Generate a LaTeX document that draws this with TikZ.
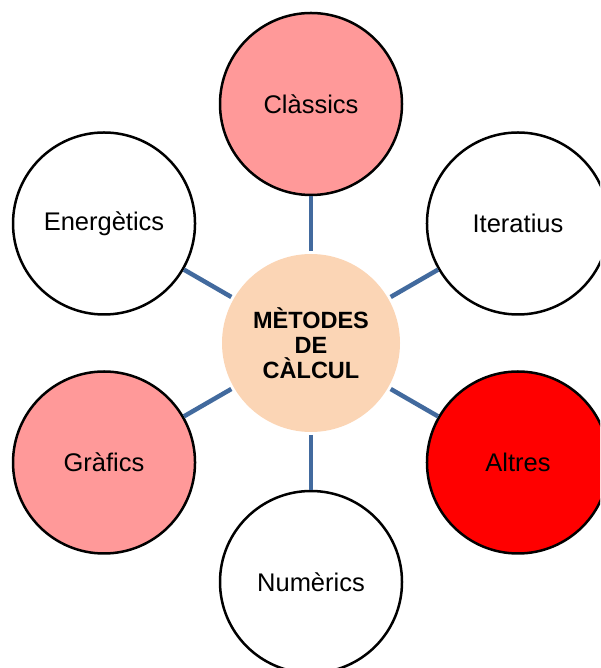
\documentclass[tikz,border=0pt]{standalone}
\usepackage{fontspec}
\setmainfont{Liberation Sans}
\usetikzlibrary{positioning}
\definecolor{Rosa}{RGB}{255,153,153}
\definecolor{Vermell}{RGB}{255,0,0}
\definecolor{Pell}{RGB}{251,213,181}
\definecolor{Enllac}{RGB}{66,106,158}

\begin{document}
\begin{tikzpicture}[x=1pt,y=1pt,
		metode/.style={circle,draw=black,line width=2.5pt,minimum size=182pt,inner sep=0pt,
			font=\fontsize{25.5}{28}\selectfont},
		nucli/.style={circle,fill=Pell,minimum size=178pt,inner sep=0pt,outer sep=3pt,
			align=center,font=\fontsize{23.5}{25}\selectfont\bfseries},
		enllac/.style={draw=Enllac,line width=4.5pt}]
		\clip (0,0) rectangle (600,668);
		\useasboundingbox (0,0) rectangle (600,668);
		\node[nucli] (nucli) at (311,325) {MÈTODES\\DE\\CÀLCUL};
		% els sis metodes al voltant
		\foreach \nom/\angle/\etiqueta/\fons in {classics/90/Clàssics/Rosa,
			iteratius/30/Iteratius/white, altres/-30/Altres/Vermell,
			numerics/-90/Numèrics/white, grafics/-150/Gràfics/Rosa,
			energetics/150/Energètics/white}{
			\path (nucli.center) ++(\angle:239) node[metode,fill=\fons] (\nom) {\etiqueta};
			\draw[enllac] (nucli) -- (\nom);
		}
\end{tikzpicture}
\end{document}
